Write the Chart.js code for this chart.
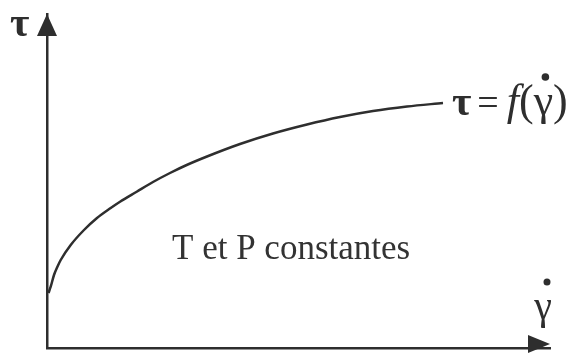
<!DOCTYPE html>
<html>
<head>
<meta charset="utf-8">
<script src="https://cdn.jsdelivr.net/npm/chart.js@4"></script>
<style>
html,body{margin:0;padding:0;background:#fff;}
#wrap{width:570px;height:354px;position:relative;}
</style>
</head>
<body>
<div id="wrap"><canvas id="c" width="570" height="354"></canvas></div>
<script>
// Shear rate (γ̇, arbitrary units) and shear stress (τ, arbitrary units)
const shearRate = [1.5, 3.7, 7, 10.3, 13.7, 23.7, 37, 50, 63.7, 73, 89.7, 106, 123, 139.7, 160, 193, 226, 260, 293, 326, 360, 396];
const shearStress = [55, 61.3, 73, 81, 88, 103, 118, 130, 140, 146.3, 156.3, 166, 175, 183, 191.5, 204, 214.5, 223.5, 231, 237, 241.5, 245];
const xRange = [0, 503];
const yRange = [0, 334];
const yAxisLabel = 'τ';
const xAxisLabel = 'γ';
const curveLabel = ['τ', '=', 'f', '(', 'γ', ')'];
const noteLabel = 'T et P constantes';

const ink = '#2e2e2e';
const serif = '"Liberation Serif", "DejaVu Serif", serif';

const points = shearRate.map((x, i) => ({x: x, y: shearStress[i]}));

const decor = {
  id: 'decor',
  afterDraw(chart) {
    const ctx = chart.ctx;
    const a = chart.chartArea;
    const xs = chart.scales.x, ys = chart.scales.y;
    ctx.save();
    ctx.fillStyle = ink;
    // y arrow
    ctx.beginPath();
    ctx.moveTo(a.left, a.top);
    ctx.lineTo(a.left - 10, a.top + 22);
    ctx.lineTo(a.left + 10, a.top + 22);
    ctx.closePath();
    ctx.fill();
    // x arrow
    ctx.beginPath();
    ctx.moveTo(a.right, a.bottom - 4);
    ctx.lineTo(a.right - 22, a.bottom - 13);
    ctx.lineTo(a.right - 22, a.bottom + 5);
    ctx.closePath();
    ctx.fill();

    ctx.textBaseline = 'alphabetic';
    ctx.textAlign = 'left';
    // y label
    ctx.font = 'bold 42px ' + serif;
    ctx.fillText(yAxisLabel, a.left - 37, a.top + 22);
    // x label with dot
    ctx.font = '40px ' + serif;
    ctx.textAlign = 'center';
    ctx.fillText(xAxisLabel, a.right - 7, a.bottom - 29);
    ctx.beginPath();
    ctx.arc(a.right - 3, a.bottom - 66, 3.5, 0, Math.PI * 2);
    ctx.fill();

    // curve label
    const last = points[points.length - 1];
    let px = xs.getPixelForValue(last.x) + 9;
    const py = ys.getPixelForValue(last.y) + 12;
    ctx.textAlign = 'left';
    const fonts = ['bold 42px ' + serif, '38px ' + serif, 'italic 44px ' + serif, '44px ' + serif, '44px ' + serif, '44px ' + serif];
    const gaps = [6, 8, 0, 0, 0, 0];
    let gammaX = 0;
    curveLabel.forEach((s, i) => {
      ctx.font = fonts[i];
      if (i === 4) gammaX = px;
      ctx.fillText(s, px, py);
      px += ctx.measureText(s).width + gaps[i];
    });
    ctx.font = '44px ' + serif;
    const gw = ctx.measureText('γ').width;
    ctx.beginPath();
    ctx.arc(gammaX + gw / 2 + 2, py - 38, 3.8, 0, Math.PI * 2);
    ctx.fill();

    // note
    ctx.font = '35px ' + serif;
    ctx.fillStyle = '#333';
    ctx.fillText(noteLabel, 172, 259);
    ctx.restore();
  }
};

new Chart(document.getElementById('c'), {
  type: 'scatter',
  data: {
    datasets: [{
      data: points,
      showLine: true,
      borderColor: ink,
      borderWidth: 2.5,
      pointRadius: 0,
      cubicInterpolationMode: 'monotone',
      fill: false
    }]
  },
  options: {
    responsive: false,
    animation: false,
    devicePixelRatio: 1,
    layout: {padding: {left: 47, top: 14, right: 20, bottom: 6}},
    plugins: {legend: {display: false}, tooltip: {enabled: false}, title: {display: false}},
    scales: {
      x: {
        type: 'linear', min: xRange[0], max: xRange[1],
        ticks: {display: false}, grid: {display: false, drawTicks: false},
        border: {display: true, color: ink, width: 2.5},
        afterFit(s) { s.height = 0; }
      },
      y: {
        type: 'linear', min: yRange[0], max: yRange[1],
        ticks: {display: false}, grid: {display: false, drawTicks: false},
        border: {display: true, color: ink, width: 2.5},
        afterFit(s) { s.width = 0; }
      }
    }
  },
  plugins: [decor]
});
</script>
</body>
</html>
